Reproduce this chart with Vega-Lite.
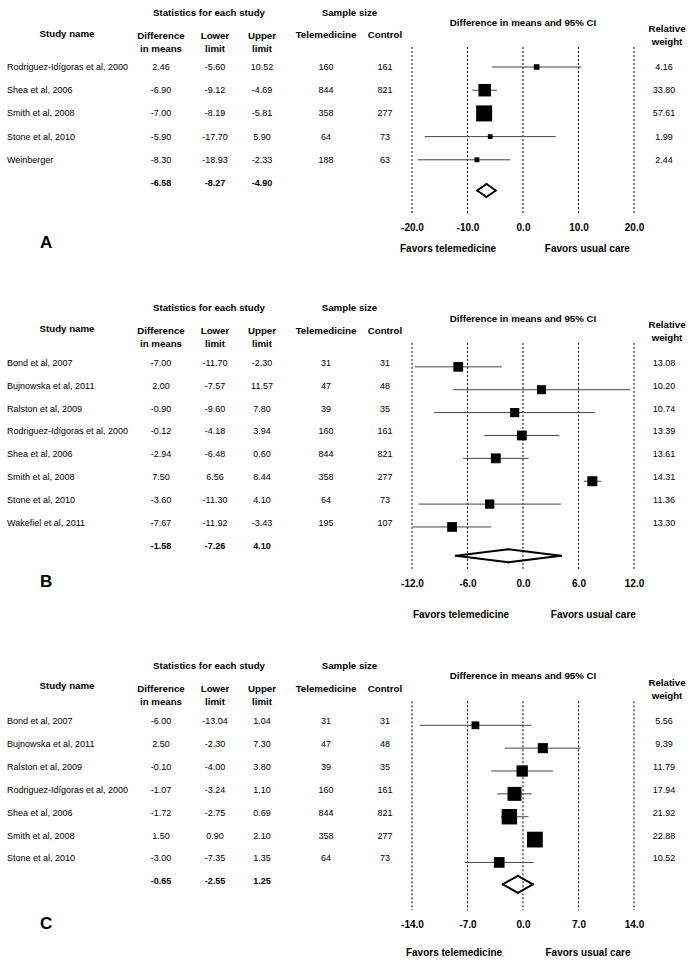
{
"$schema": "https://vega.github.io/schema/vega-lite/v6.json",
"padding": {"left": 7, "top": 7, "right": 0, "bottom": 0},
"columns": 8,
"spacing": {"row": 40, "column": 0},
"bounds": "flush",
"resolve": {"scale": {"size": "independent"}},
"config": {
  "view": {"stroke": null},
  "text": {"font": "Liberation Sans", "fontSize": 9, "color": "#000", "baseline": "middle"},
  "axis": {"labelFont": "Liberation Sans"},
  "locale": {"number": {"decimal": ".", "thousands": ",", "grouping": [3], "currency": ["$", ""], "minus": "-"}}
},
"datasets": {
  "a": [
    {"row": "r1", "study": "Rodriguez-Idígoras  et al, 2000", "diff": 2.46, "lower": -5.60, "upper": 10.52, "tele": 160, "control": 161, "weight": 4.16},
    {"row": "r2", "study": "Shea et al, 2006", "diff": -6.90, "lower": -9.12, "upper": -4.69, "tele": 844, "control": 821, "weight": 33.80},
    {"row": "r3", "study": "Smith et al, 2008", "diff": -7.00, "lower": -8.19, "upper": -5.81, "tele": 358, "control": 277, "weight": 57.61},
    {"row": "r4", "study": "Stone et al, 2010", "diff": -5.90, "lower": -17.70, "upper": 5.90, "tele": 64, "control": 73, "weight": 1.99},
    {"row": "r5", "study": "Weinberger", "diff": -8.30, "lower": -18.93, "upper": -2.33, "tele": 188, "control": 63, "weight": 2.44}
  ],
  "as": [{"row": "s", "diff": -6.58, "lower": -8.27, "upper": -4.90}],
  "b": [
    {"row": "r1", "study": "Bond et al, 2007", "diff": -7.00, "lower": -11.70, "upper": -2.30, "tele": 31, "control": 31, "weight": 13.08},
    {"row": "r2", "study": "Bujnowska  et al, 2011", "diff": 2.00, "lower": -7.57, "upper": 11.57, "tele": 47, "control": 48, "weight": 10.20},
    {"row": "r3", "study": "Ralston  et al, 2009", "diff": -0.90, "lower": -9.60, "upper": 7.80, "tele": 39, "control": 35, "weight": 10.74},
    {"row": "r4", "study": "Rodriguez-Idígoras  et al, 2000", "diff": -0.12, "lower": -4.18, "upper": 3.94, "tele": 160, "control": 161, "weight": 13.39},
    {"row": "r5", "study": "Shea et al, 2006", "diff": -2.94, "lower": -6.48, "upper": 0.60, "tele": 844, "control": 821, "weight": 13.61},
    {"row": "r6", "study": "Smith et al, 2008", "diff": 7.50, "lower": 6.56, "upper": 8.44, "tele": 358, "control": 277, "weight": 14.31},
    {"row": "r7", "study": "Stone  et al, 2010", "diff": -3.60, "lower": -11.30, "upper": 4.10, "tele": 64, "control": 73, "weight": 11.36},
    {"row": "r8", "study": "Wakefiel  et al, 2011", "diff": -7.67, "lower": -11.92, "upper": -3.43, "tele": 195, "control": 107, "weight": 13.30}
  ],
  "bs": [{"row": "s", "diff": -1.58, "lower": -7.26, "upper": 4.10}],
  "c": [
    {"row": "r1", "study": "Bond et al, 2007", "diff": -6.00, "lower": -13.04, "upper": 1.04, "tele": 31, "control": 31, "weight": 5.56},
    {"row": "r2", "study": "Bujnowska  et al, 2011", "diff": 2.50, "lower": -2.30, "upper": 7.30, "tele": 47, "control": 48, "weight": 9.39},
    {"row": "r3", "study": "Ralston  et al, 2009", "diff": -0.10, "lower": -4.00, "upper": 3.80, "tele": 39, "control": 35, "weight": 11.79},
    {"row": "r4", "study": "Rodriguez-Idígoras  et al, 2000", "diff": -1.07, "lower": -3.24, "upper": 1.10, "tele": 160, "control": 161, "weight": 17.94},
    {"row": "r5", "study": "Shea et al, 2006", "diff": -1.72, "lower": -2.75, "upper": 0.69, "tele": 844, "control": 821, "weight": 21.92},
    {"row": "r6", "study": "Smith et al, 2008", "diff": 1.50, "lower": 0.90, "upper": 2.10, "tele": 358, "control": 277, "weight": 22.88},
    {"row": "r7", "study": "Stone  et al, 2010", "diff": -3.00, "lower": -7.35, "upper": 1.35, "tele": 64, "control": 73, "weight": 10.52}
  ],
  "cs": [{"row": "s", "diff": -0.65, "lower": -2.55, "upper": 1.25}],
  "ta": [{"t": -20}, {"t": -10}, {"t": 0}, {"t": 10}, {"t": 20}],
  "tb": [{"t": -12}, {"t": -6}, {"t": 0}, {"t": 6}, {"t": 12}],
  "tc": [{"t": -14}, {"t": -7}, {"t": 0}, {"t": 7}, {"t": 14}]
},
"concat": [
  {"width": 115, "height": 255.2, "layer": [
    {"data": {"name": "a"}, "mark": {"type": "text", "align": "left"}, "encoding": {"x": {"datum": 0, "type": "quantitative", "scale": {"domain": [0, 1]}, "axis": null}, "y": {"field": "row", "type": "ordinal", "scale": {"type": "point", "padding": 0.5, "domain": ["h1","h2","r1","r2","r3","r4","r5","s","e","tick","fav"]}, "axis": null}, "text": {"field": "study", "type": "nominal"}}},
    {"data": {"values": [{}]}, "mark": {"type": "text", "fontWeight": "bold", "fontSize": 9.7, "dx": 2.5, "dy": -9.8}, "encoding": {"y": {"datum": "h2", "type": "ordinal", "scale": {"type": "point", "padding": 0.5, "domain": ["h1","h2","r1","r2","r3","r4","r5","s","e","tick","fav"]}, "axis": null}, "text": {"value": "Study name"}}},
    {"data": {"values": [{}]}, "mark": {"type": "text", "align": "left", "fontWeight": "bold", "fontSize": 17, "dx": 33, "dy": 13.6}, "encoding": {"x": {"datum": 0, "type": "quantitative", "scale": {"domain": [0, 1]}, "axis": null}, "y": {"datum": "tick", "type": "ordinal", "scale": {"type": "point", "padding": 0.5, "domain": ["h1","h2","r1","r2","r3","r4","r5","s","e","tick","fav"]}, "axis": null}, "text": {"value": "A"}}}
  ]},
  {"width": 78, "height": 255.2, "layer": [
    {"data": {"name": "a"}, "mark": "text", "encoding": {"y": {"field": "row", "type": "ordinal", "scale": {"type": "point", "padding": 0.5, "domain": ["h1","h2","r1","r2","r3","r4","r5","s","e","tick","fav"]}, "axis": null}, "text": {"field": "diff", "type": "quantitative", "format": ".2f"}}},
    {"data": {"name": "as"}, "mark": {"type": "text", "fontWeight": "bold"}, "encoding": {"y": {"field": "row", "type": "ordinal", "scale": {"type": "point", "padding": 0.5, "domain": ["h1","h2","r1","r2","r3","r4","r5","s","e","tick","fav"]}, "axis": null}, "text": {"field": "diff", "type": "quantitative", "format": ".2f"}}},
    {"data": {"values": [{}]}, "mark": {"type": "text", "fontWeight": "bold", "fontSize": 9.7, "lineHeight": 12.5, "dy": -7.8}, "encoding": {"y": {"datum": "h2", "type": "ordinal", "scale": {"type": "point", "padding": 0.5, "domain": ["h1","h2","r1","r2","r3","r4","r5","s","e","tick","fav"]}, "axis": null}, "text": {"value": ["Difference", "in means"]}}}
  ]},
  {"width": 30, "height": 255.2, "layer": [
    {"data": {"name": "a"}, "mark": "text", "encoding": {"y": {"field": "row", "type": "ordinal", "scale": {"type": "point", "padding": 0.5, "domain": ["h1","h2","r1","r2","r3","r4","r5","s","e","tick","fav"]}, "axis": null}, "text": {"field": "lower", "type": "quantitative", "format": ".2f"}}},
    {"data": {"name": "as"}, "mark": {"type": "text", "fontWeight": "bold"}, "encoding": {"y": {"field": "row", "type": "ordinal", "scale": {"type": "point", "padding": 0.5, "domain": ["h1","h2","r1","r2","r3","r4","r5","s","e","tick","fav"]}, "axis": null}, "text": {"field": "lower", "type": "quantitative", "format": ".2f"}}},
    {"data": {"values": [{}]}, "mark": {"type": "text", "fontWeight": "bold", "fontSize": 9.7, "lineHeight": 12.5, "dy": -7.8}, "encoding": {"y": {"datum": "h2", "type": "ordinal", "scale": {"type": "point", "padding": 0.5, "domain": ["h1","h2","r1","r2","r3","r4","r5","s","e","tick","fav"]}, "axis": null}, "text": {"value": ["Lower", "limit"]}}},
    {"data": {"values": [{}]}, "mark": {"type": "text", "fontWeight": "bold", "fontSize": 9.7, "dx": -6, "dy": -7.6}, "encoding": {"y": {"datum": "h1", "type": "ordinal", "scale": {"type": "point", "padding": 0.5, "domain": ["h1","h2","r1","r2","r3","r4","r5","s","e","tick","fav"]}, "axis": null}, "text": {"value": "Statistics for each study"}}}
  ]},
  {"width": 64, "height": 255.2, "layer": [
    {"data": {"name": "a"}, "mark": "text", "encoding": {"y": {"field": "row", "type": "ordinal", "scale": {"type": "point", "padding": 0.5, "domain": ["h1","h2","r1","r2","r3","r4","r5","s","e","tick","fav"]}, "axis": null}, "text": {"field": "upper", "type": "quantitative", "format": ".2f"}}},
    {"data": {"name": "as"}, "mark": {"type": "text", "fontWeight": "bold"}, "encoding": {"y": {"field": "row", "type": "ordinal", "scale": {"type": "point", "padding": 0.5, "domain": ["h1","h2","r1","r2","r3","r4","r5","s","e","tick","fav"]}, "axis": null}, "text": {"field": "upper", "type": "quantitative", "format": ".2f"}}},
    {"data": {"values": [{}]}, "mark": {"type": "text", "fontWeight": "bold", "fontSize": 9.7, "lineHeight": 12.5, "dy": -7.8}, "encoding": {"y": {"datum": "h2", "type": "ordinal", "scale": {"type": "point", "padding": 0.5, "domain": ["h1","h2","r1","r2","r3","r4","r5","s","e","tick","fav"]}, "axis": null}, "text": {"value": ["Upper", "limit"]}}}
  ]},
  {"width": 64, "height": 255.2, "layer": [
    {"data": {"name": "a"}, "mark": "text", "encoding": {"y": {"field": "row", "type": "ordinal", "scale": {"type": "point", "padding": 0.5, "domain": ["h1","h2","r1","r2","r3","r4","r5","s","e","tick","fav"]}, "axis": null}, "text": {"field": "tele", "type": "nominal"}}},
    {"data": {"values": [{}]}, "mark": {"type": "text", "fontWeight": "bold", "fontSize": 9.7, "dy": -8.8}, "encoding": {"y": {"datum": "h2", "type": "ordinal", "scale": {"type": "point", "padding": 0.5, "domain": ["h1","h2","r1","r2","r3","r4","r5","s","e","tick","fav"]}, "axis": null}, "text": {"value": "Telemedicine"}}},
    {"data": {"values": [{}]}, "mark": {"type": "text", "fontWeight": "bold", "fontSize": 9.7, "dx": 23.5, "dy": -7.6}, "encoding": {"y": {"datum": "h1", "type": "ordinal", "scale": {"type": "point", "padding": 0.5, "domain": ["h1","h2","r1","r2","r3","r4","r5","s","e","tick","fav"]}, "axis": null}, "text": {"value": "Sample size"}}}
  ]},
  {"width": 54, "height": 255.2, "layer": [
    {"data": {"name": "a"}, "mark": "text", "encoding": {"y": {"field": "row", "type": "ordinal", "scale": {"type": "point", "padding": 0.5, "domain": ["h1","h2","r1","r2","r3","r4","r5","s","e","tick","fav"]}, "axis": null}, "text": {"field": "control", "type": "nominal"}}},
    {"data": {"values": [{}]}, "mark": {"type": "text", "fontWeight": "bold", "fontSize": 9.7, "dy": -8.8}, "encoding": {"y": {"datum": "h2", "type": "ordinal", "scale": {"type": "point", "padding": 0.5, "domain": ["h1","h2","r1","r2","r3","r4","r5","s","e","tick","fav"]}, "axis": null}, "text": {"value": "Control"}}}
  ]},
  {"width": 222, "height": 255.2, "layer": [
    {"data": {"name": "ta"}, "mark": {"type": "rule", "color": "#000", "strokeWidth": 1, "strokeDash": [2, 2], "yOffset": 3.2, "y2Offset": 7.8}, "encoding": {"x": {"field": "t", "type": "quantitative", "title": null, "scale": {"domain": [-20, 20], "nice": false, "zero": false}, "axis": {"orient": "bottom", "values": [-20, -10, 0, 10, 20], "format": ".1f", "grid": false, "domain": false, "ticks": false, "tickSize": 0, "labelPadding": 0, "labelBaseline": "middle", "labelFlush": false, "labelOverlap": false, "offset": -37, "labelFontWeight": "bold", "labelFontSize": 10, "labelColor": "#000", "title": null}}, "y": {"datum": "h2", "type": "ordinal", "scale": {"type": "point", "padding": 0.5, "domain": ["h1","h2","r1","r2","r3","r4","r5","s","e","tick","fav"]}, "axis": null}, "y2": {"datum": "e"}}},
    {"data": {"name": "a"}, "mark": {"type": "rule", "color": "#444", "strokeWidth": 1}, "encoding": {"x": {"field": "lower", "type": "quantitative", "title": null, "scale": {"domain": [-20, 20], "nice": false, "zero": false}}, "x2": {"field": "upper"}, "y": {"field": "row", "type": "ordinal", "scale": {"type": "point", "padding": 0.5, "domain": ["h1","h2","r1","r2","r3","r4","r5","s","e","tick","fav"]}, "axis": null}}},
    {"data": {"name": "a"}, "mark": {"type": "square", "filled": true, "color": "#000", "opacity": 1}, "encoding": {"x": {"field": "diff", "type": "quantitative", "title": null, "scale": {"domain": [-20, 20], "nice": false, "zero": false}}, "y": {"field": "row", "type": "ordinal", "scale": {"type": "point", "padding": 0.5, "domain": ["h1","h2","r1","r2","r3","r4","r5","s","e","tick","fav"]}, "axis": null}, "size": {"field": "weight", "type": "quantitative", "scale": {"domain": [0, 57.61], "range": [14, 256]}, "legend": null}}},
    {"data": {"name": "as"}, "mark": {"type": "rule", "color": "#000", "strokeWidth": 2, "strokeCap": "round", "yOffset": 7.5, "y2Offset": 1}, "encoding": {"x": {"field": "lower", "type": "quantitative", "title": null, "scale": {"domain": [-20, 20], "nice": false, "zero": false}}, "x2": {"field": "diff"}, "y": {"field": "row", "type": "ordinal", "scale": {"type": "point", "padding": 0.5, "domain": ["h1","h2","r1","r2","r3","r4","r5","s","e","tick","fav"]}, "axis": null}, "y2": {"field": "row"}}},
    {"data": {"name": "as"}, "mark": {"type": "rule", "color": "#000", "strokeWidth": 2, "strokeCap": "round", "yOffset": 1, "y2Offset": 7.5}, "encoding": {"x": {"field": "diff", "type": "quantitative", "title": null, "scale": {"domain": [-20, 20], "nice": false, "zero": false}}, "x2": {"field": "upper"}, "y": {"field": "row", "type": "ordinal", "scale": {"type": "point", "padding": 0.5, "domain": ["h1","h2","r1","r2","r3","r4","r5","s","e","tick","fav"]}, "axis": null}, "y2": {"field": "row"}}},
    {"data": {"name": "as"}, "mark": {"type": "rule", "color": "#000", "strokeWidth": 2, "strokeCap": "round", "yOffset": 7.5, "y2Offset": 14}, "encoding": {"x": {"field": "lower", "type": "quantitative", "title": null, "scale": {"domain": [-20, 20], "nice": false, "zero": false}}, "x2": {"field": "diff"}, "y": {"field": "row", "type": "ordinal", "scale": {"type": "point", "padding": 0.5, "domain": ["h1","h2","r1","r2","r3","r4","r5","s","e","tick","fav"]}, "axis": null}, "y2": {"field": "row"}}},
    {"data": {"name": "as"}, "mark": {"type": "rule", "color": "#000", "strokeWidth": 2, "strokeCap": "round", "yOffset": 14, "y2Offset": 7.5}, "encoding": {"x": {"field": "diff", "type": "quantitative", "title": null, "scale": {"domain": [-20, 20], "nice": false, "zero": false}}, "x2": {"field": "upper"}, "y": {"field": "row", "type": "ordinal", "scale": {"type": "point", "padding": 0.5, "domain": ["h1","h2","r1","r2","r3","r4","r5","s","e","tick","fav"]}, "axis": null}, "y2": {"field": "row"}}},
    {"data": {"values": [{}]}, "mark": {"type": "text", "fontWeight": "bold", "fontSize": 9.7, "dy": 2.4}, "encoding": {"x": {"datum": 0, "type": "quantitative", "title": null, "scale": {"domain": [-20, 20], "nice": false, "zero": false}}, "y": {"datum": "h1", "type": "ordinal", "scale": {"type": "point", "padding": 0.5, "domain": ["h1","h2","r1","r2","r3","r4","r5","s","e","tick","fav"]}, "axis": null}, "text": {"value": "Difference in means and 95% CI"}}},
    {"data": {"values": [{}]}, "mark": {"type": "text", "fontWeight": "bold", "fontSize": 10, "dy": -3.6}, "encoding": {"x": {"datum": -13.5, "type": "quantitative", "title": null, "scale": {"domain": [-20, 20], "nice": false, "zero": false}}, "y": {"datum": "fav", "type": "ordinal", "scale": {"type": "point", "padding": 0.5, "domain": ["h1","h2","r1","r2","r3","r4","r5","s","e","tick","fav"]}, "axis": null}, "text": {"value": "Favors telemedicine"}}},
    {"data": {"values": [{}]}, "mark": {"type": "text", "fontWeight": "bold", "fontSize": 10, "dy": -3.6}, "encoding": {"x": {"datum": 11.6, "type": "quantitative", "title": null, "scale": {"domain": [-20, 20], "nice": false, "zero": false}}, "y": {"datum": "fav", "type": "ordinal", "scale": {"type": "point", "padding": 0.5, "domain": ["h1","h2","r1","r2","r3","r4","r5","s","e","tick","fav"]}, "axis": null}, "text": {"value": "Favors usual care"}}}
  ]},
  {"width": 60, "height": 255.2, "layer": [
    {"data": {"name": "a"}, "mark": "text", "encoding": {"y": {"field": "row", "type": "ordinal", "scale": {"type": "point", "padding": 0.5, "domain": ["h1","h2","r1","r2","r3","r4","r5","s","e","tick","fav"]}, "axis": null}, "text": {"field": "weight", "type": "quantitative", "format": ".2f"}}},
    {"data": {"values": [{}]}, "mark": {"type": "text", "fontWeight": "bold", "fontSize": 9.7, "lineHeight": 13, "dx": 3, "dy": -14.8}, "encoding": {"y": {"datum": "h2", "type": "ordinal", "scale": {"type": "point", "padding": 0.5, "domain": ["h1","h2","r1","r2","r3","r4","r5","s","e","tick","fav"]}, "axis": null}, "text": {"value": ["Relative", "weight"]}}}
  ]},

  {"width": 115, "height": 321.55, "layer": [
    {"data": {"name": "b"}, "mark": {"type": "text", "align": "left"}, "encoding": {"x": {"datum": 0, "type": "quantitative", "scale": {"domain": [0, 1]}, "axis": null}, "y": {"field": "row", "type": "ordinal", "scale": {"type": "point", "padding": 0.5285, "domain": ["h1","h2","r1","r2","r3","r4","r5","r6","r7","r8","s","e","tick","fav"]}, "axis": null}, "text": {"field": "study", "type": "nominal"}}},
    {"data": {"values": [{}]}, "mark": {"type": "text", "fontWeight": "bold", "fontSize": 9.7, "dx": 2.5, "dy": -11.1}, "encoding": {"y": {"datum": "h2", "type": "ordinal", "scale": {"type": "point", "padding": 0.5285, "domain": ["h1","h2","r1","r2","r3","r4","r5","r6","r7","r8","s","e","tick","fav"]}, "axis": null}, "text": {"value": "Study name"}}},
    {"data": {"values": [{}]}, "mark": {"type": "text", "align": "left", "fontWeight": "bold", "fontSize": 17, "dx": 33, "dy": -9.75}, "encoding": {"x": {"datum": 0, "type": "quantitative", "scale": {"domain": [0, 1]}, "axis": null}, "y": {"datum": "tick", "type": "ordinal", "scale": {"type": "point", "padding": 0.5285, "domain": ["h1","h2","r1","r2","r3","r4","r5","r6","r7","r8","s","e","tick","fav"]}, "axis": null}, "text": {"value": "B"}}}
  ]},
  {"width": 78, "height": 321.55, "layer": [
    {"data": {"name": "b"}, "mark": "text", "encoding": {"y": {"field": "row", "type": "ordinal", "scale": {"type": "point", "padding": 0.5285, "domain": ["h1","h2","r1","r2","r3","r4","r5","r6","r7","r8","s","e","tick","fav"]}, "axis": null}, "text": {"field": "diff", "type": "quantitative", "format": ".2f"}}},
    {"data": {"name": "bs"}, "mark": {"type": "text", "fontWeight": "bold"}, "encoding": {"y": {"field": "row", "type": "ordinal", "scale": {"type": "point", "padding": 0.5285, "domain": ["h1","h2","r1","r2","r3","r4","r5","r6","r7","r8","s","e","tick","fav"]}, "axis": null}, "text": {"field": "diff", "type": "quantitative", "format": ".2f"}}},
    {"data": {"values": [{}]}, "mark": {"type": "text", "fontWeight": "bold", "fontSize": 9.7, "lineHeight": 13.5, "dy": -9.1}, "encoding": {"y": {"datum": "h2", "type": "ordinal", "scale": {"type": "point", "padding": 0.5285, "domain": ["h1","h2","r1","r2","r3","r4","r5","r6","r7","r8","s","e","tick","fav"]}, "axis": null}, "text": {"value": ["Difference", "in means"]}}}
  ]},
  {"width": 30, "height": 321.55, "layer": [
    {"data": {"name": "b"}, "mark": "text", "encoding": {"y": {"field": "row", "type": "ordinal", "scale": {"type": "point", "padding": 0.5285, "domain": ["h1","h2","r1","r2","r3","r4","r5","r6","r7","r8","s","e","tick","fav"]}, "axis": null}, "text": {"field": "lower", "type": "quantitative", "format": ".2f"}}},
    {"data": {"name": "bs"}, "mark": {"type": "text", "fontWeight": "bold"}, "encoding": {"y": {"field": "row", "type": "ordinal", "scale": {"type": "point", "padding": 0.5285, "domain": ["h1","h2","r1","r2","r3","r4","r5","r6","r7","r8","s","e","tick","fav"]}, "axis": null}, "text": {"field": "lower", "type": "quantitative", "format": ".2f"}}},
    {"data": {"values": [{}]}, "mark": {"type": "text", "fontWeight": "bold", "fontSize": 9.7, "lineHeight": 13.5, "dy": -9.1}, "encoding": {"y": {"datum": "h2", "type": "ordinal", "scale": {"type": "point", "padding": 0.5285, "domain": ["h1","h2","r1","r2","r3","r4","r5","r6","r7","r8","s","e","tick","fav"]}, "axis": null}, "text": {"value": ["Lower", "limit"]}}},
    {"data": {"values": [{}]}, "mark": {"type": "text", "fontWeight": "bold", "fontSize": 9.7, "dx": -6, "dy": -9.25}, "encoding": {"y": {"datum": "h1", "type": "ordinal", "scale": {"type": "point", "padding": 0.5285, "domain": ["h1","h2","r1","r2","r3","r4","r5","r6","r7","r8","s","e","tick","fav"]}, "axis": null}, "text": {"value": "Statistics for each study"}}}
  ]},
  {"width": 64, "height": 321.55, "layer": [
    {"data": {"name": "b"}, "mark": "text", "encoding": {"y": {"field": "row", "type": "ordinal", "scale": {"type": "point", "padding": 0.5285, "domain": ["h1","h2","r1","r2","r3","r4","r5","r6","r7","r8","s","e","tick","fav"]}, "axis": null}, "text": {"field": "upper", "type": "quantitative", "format": ".2f"}}},
    {"data": {"name": "bs"}, "mark": {"type": "text", "fontWeight": "bold"}, "encoding": {"y": {"field": "row", "type": "ordinal", "scale": {"type": "point", "padding": 0.5285, "domain": ["h1","h2","r1","r2","r3","r4","r5","r6","r7","r8","s","e","tick","fav"]}, "axis": null}, "text": {"field": "upper", "type": "quantitative", "format": ".2f"}}},
    {"data": {"values": [{}]}, "mark": {"type": "text", "fontWeight": "bold", "fontSize": 9.7, "lineHeight": 13.5, "dy": -9.1}, "encoding": {"y": {"datum": "h2", "type": "ordinal", "scale": {"type": "point", "padding": 0.5285, "domain": ["h1","h2","r1","r2","r3","r4","r5","r6","r7","r8","s","e","tick","fav"]}, "axis": null}, "text": {"value": ["Upper", "limit"]}}}
  ]},
  {"width": 64, "height": 321.55, "layer": [
    {"data": {"name": "b"}, "mark": "text", "encoding": {"y": {"field": "row", "type": "ordinal", "scale": {"type": "point", "padding": 0.5285, "domain": ["h1","h2","r1","r2","r3","r4","r5","r6","r7","r8","s","e","tick","fav"]}, "axis": null}, "text": {"field": "tele", "type": "nominal"}}},
    {"data": {"values": [{}]}, "mark": {"type": "text", "fontWeight": "bold", "fontSize": 9.7, "dy": -9.1}, "encoding": {"y": {"datum": "h2", "type": "ordinal", "scale": {"type": "point", "padding": 0.5285, "domain": ["h1","h2","r1","r2","r3","r4","r5","r6","r7","r8","s","e","tick","fav"]}, "axis": null}, "text": {"value": "Telemedicine"}}},
    {"data": {"values": [{}]}, "mark": {"type": "text", "fontWeight": "bold", "fontSize": 9.7, "dx": 23.5, "dy": -9.25}, "encoding": {"y": {"datum": "h1", "type": "ordinal", "scale": {"type": "point", "padding": 0.5285, "domain": ["h1","h2","r1","r2","r3","r4","r5","r6","r7","r8","s","e","tick","fav"]}, "axis": null}, "text": {"value": "Sample size"}}}
  ]},
  {"width": 54, "height": 321.55, "layer": [
    {"data": {"name": "b"}, "mark": "text", "encoding": {"y": {"field": "row", "type": "ordinal", "scale": {"type": "point", "padding": 0.5285, "domain": ["h1","h2","r1","r2","r3","r4","r5","r6","r7","r8","s","e","tick","fav"]}, "axis": null}, "text": {"field": "control", "type": "nominal"}}},
    {"data": {"values": [{}]}, "mark": {"type": "text", "fontWeight": "bold", "fontSize": 9.7, "dy": -9.1}, "encoding": {"y": {"datum": "h2", "type": "ordinal", "scale": {"type": "point", "padding": 0.5285, "domain": ["h1","h2","r1","r2","r3","r4","r5","r6","r7","r8","s","e","tick","fav"]}, "axis": null}, "text": {"value": "Control"}}}
  ]},
  {"width": 222, "height": 321.55, "layer": [
    {"data": {"name": "tb"}, "mark": {"type": "rule", "color": "#000", "strokeWidth": 1, "strokeDash": [2, 2], "yOffset": 2.9, "y2Offset": 1.1}, "encoding": {"x": {"field": "t", "type": "quantitative", "title": null, "scale": {"domain": [-12, 12], "nice": false, "zero": false}, "axis": {"orient": "bottom", "values": [-12, -6, 0, 6, 12], "format": ".1f", "grid": false, "domain": false, "ticks": false, "tickSize": 0, "labelPadding": 0, "labelBaseline": "middle", "labelFlush": false, "labelOverlap": false, "offset": -43, "labelFontWeight": "bold", "labelFontSize": 10, "labelColor": "#000", "title": null}}, "y": {"datum": "h2", "type": "ordinal", "scale": {"type": "point", "padding": 0.5285, "domain": ["h1","h2","r1","r2","r3","r4","r5","r6","r7","r8","s","e","tick","fav"]}, "axis": null}, "y2": {"datum": "e"}}},
    {"data": {"name": "b"}, "mark": {"type": "rule", "color": "#444", "strokeWidth": 1, "yOffset": 4}, "encoding": {"x": {"field": "lower", "type": "quantitative", "title": null, "scale": {"domain": [-12, 12], "nice": false, "zero": false}}, "x2": {"field": "upper"}, "y": {"field": "row", "type": "ordinal", "scale": {"type": "point", "padding": 0.5285, "domain": ["h1","h2","r1","r2","r3","r4","r5","r6","r7","r8","s","e","tick","fav"]}, "axis": null}}},
    {"data": {"name": "b"}, "mark": {"type": "square", "filled": true, "color": "#000", "opacity": 1, "yOffset": 4}, "encoding": {"x": {"field": "diff", "type": "quantitative", "title": null, "scale": {"domain": [-12, 12], "nice": false, "zero": false}}, "y": {"field": "row", "type": "ordinal", "scale": {"type": "point", "padding": 0.5285, "domain": ["h1","h2","r1","r2","r3","r4","r5","r6","r7","r8","s","e","tick","fav"]}, "axis": null}, "size": {"field": "weight", "type": "quantitative", "scale": {"domain": [0, 14.31], "range": [34, 100]}, "legend": null}}},
    {"data": {"name": "bs"}, "mark": {"type": "rule", "color": "#000", "strokeWidth": 2, "strokeCap": "round", "yOffset": 10, "y2Offset": 3.5}, "encoding": {"x": {"field": "lower", "type": "quantitative", "title": null, "scale": {"domain": [-12, 12], "nice": false, "zero": false}}, "x2": {"field": "diff"}, "y": {"field": "row", "type": "ordinal", "scale": {"type": "point", "padding": 0.5285, "domain": ["h1","h2","r1","r2","r3","r4","r5","r6","r7","r8","s","e","tick","fav"]}, "axis": null}, "y2": {"field": "row"}}},
    {"data": {"name": "bs"}, "mark": {"type": "rule", "color": "#000", "strokeWidth": 2, "strokeCap": "round", "yOffset": 3.5, "y2Offset": 10}, "encoding": {"x": {"field": "diff", "type": "quantitative", "title": null, "scale": {"domain": [-12, 12], "nice": false, "zero": false}}, "x2": {"field": "upper"}, "y": {"field": "row", "type": "ordinal", "scale": {"type": "point", "padding": 0.5285, "domain": ["h1","h2","r1","r2","r3","r4","r5","r6","r7","r8","s","e","tick","fav"]}, "axis": null}, "y2": {"field": "row"}}},
    {"data": {"name": "bs"}, "mark": {"type": "rule", "color": "#000", "strokeWidth": 2, "strokeCap": "round", "yOffset": 10, "y2Offset": 16.5}, "encoding": {"x": {"field": "lower", "type": "quantitative", "title": null, "scale": {"domain": [-12, 12], "nice": false, "zero": false}}, "x2": {"field": "diff"}, "y": {"field": "row", "type": "ordinal", "scale": {"type": "point", "padding": 0.5285, "domain": ["h1","h2","r1","r2","r3","r4","r5","r6","r7","r8","s","e","tick","fav"]}, "axis": null}, "y2": {"field": "row"}}},
    {"data": {"name": "bs"}, "mark": {"type": "rule", "color": "#000", "strokeWidth": 2, "strokeCap": "round", "yOffset": 16.5, "y2Offset": 10}, "encoding": {"x": {"field": "diff", "type": "quantitative", "title": null, "scale": {"domain": [-12, 12], "nice": false, "zero": false}}, "x2": {"field": "upper"}, "y": {"field": "row", "type": "ordinal", "scale": {"type": "point", "padding": 0.5285, "domain": ["h1","h2","r1","r2","r3","r4","r5","r6","r7","r8","s","e","tick","fav"]}, "axis": null}, "y2": {"field": "row"}}},
    {"data": {"values": [{}]}, "mark": {"type": "text", "fontWeight": "bold", "fontSize": 9.7, "dy": 1.75}, "encoding": {"x": {"datum": 0, "type": "quantitative", "title": null, "scale": {"domain": [-12, 12], "nice": false, "zero": false}}, "y": {"datum": "h1", "type": "ordinal", "scale": {"type": "point", "padding": 0.5285, "domain": ["h1","h2","r1","r2","r3","r4","r5","r6","r7","r8","s","e","tick","fav"]}, "axis": null}, "text": {"value": "Difference in means and 95% CI"}}},
    {"data": {"values": [{}]}, "mark": {"type": "text", "fontWeight": "bold", "fontSize": 10, "dy": 0.4}, "encoding": {"x": {"datum": -6.7, "type": "quantitative", "title": null, "scale": {"domain": [-12, 12], "nice": false, "zero": false}}, "y": {"datum": "fav", "type": "ordinal", "scale": {"type": "point", "padding": 0.5285, "domain": ["h1","h2","r1","r2","r3","r4","r5","r6","r7","r8","s","e","tick","fav"]}, "axis": null}, "text": {"value": "Favors telemedicine"}}},
    {"data": {"values": [{}]}, "mark": {"type": "text", "fontWeight": "bold", "fontSize": 10, "dy": 0.4}, "encoding": {"x": {"datum": 7.6, "type": "quantitative", "title": null, "scale": {"domain": [-12, 12], "nice": false, "zero": false}}, "y": {"datum": "fav", "type": "ordinal", "scale": {"type": "point", "padding": 0.5285, "domain": ["h1","h2","r1","r2","r3","r4","r5","r6","r7","r8","s","e","tick","fav"]}, "axis": null}, "text": {"value": "Favors usual care"}}}
  ]},
  {"width": 60, "height": 321.55, "layer": [
    {"data": {"name": "b"}, "mark": "text", "encoding": {"y": {"field": "row", "type": "ordinal", "scale": {"type": "point", "padding": 0.5285, "domain": ["h1","h2","r1","r2","r3","r4","r5","r6","r7","r8","s","e","tick","fav"]}, "axis": null}, "text": {"field": "weight", "type": "quantitative", "format": ".2f"}}},
    {"data": {"values": [{}]}, "mark": {"type": "text", "fontWeight": "bold", "fontSize": 9.7, "lineHeight": 13, "dx": 3, "dy": -15.1}, "encoding": {"y": {"datum": "h2", "type": "ordinal", "scale": {"type": "point", "padding": 0.5285, "domain": ["h1","h2","r1","r2","r3","r4","r5","r6","r7","r8","s","e","tick","fav"]}, "axis": null}, "text": {"value": ["Relative", "weight"]}}}
  ]},

  {"width": 115, "height": 291.45, "layer": [
    {"data": {"name": "c"}, "mark": {"type": "text", "align": "left"}, "encoding": {"x": {"datum": 0, "type": "quantitative", "scale": {"domain": [0, 1]}, "axis": null}, "y": {"field": "row", "type": "ordinal", "scale": {"type": "point", "padding": 0.3754, "domain": ["h1","h2","r1","r2","r3","r4","r5","r6","r7","s","e","tick","fav"]}, "axis": null}, "text": {"field": "study", "type": "nominal"}}},
    {"data": {"values": [{}]}, "mark": {"type": "text", "fontWeight": "bold", "fontSize": 9.7, "dx": 2.5, "dy": -12.2}, "encoding": {"y": {"datum": "h2", "type": "ordinal", "scale": {"type": "point", "padding": 0.3754, "domain": ["h1","h2","r1","r2","r3","r4","r5","r6","r7","s","e","tick","fav"]}, "axis": null}, "text": {"value": "Study name"}}},
    {"data": {"values": [{}]}, "mark": {"type": "text", "align": "left", "fontWeight": "bold", "fontSize": 17, "dx": 33, "dy": -2.7}, "encoding": {"x": {"datum": 0, "type": "quantitative", "scale": {"domain": [0, 1]}, "axis": null}, "y": {"datum": "tick", "type": "ordinal", "scale": {"type": "point", "padding": 0.3754, "domain": ["h1","h2","r1","r2","r3","r4","r5","r6","r7","s","e","tick","fav"]}, "axis": null}, "text": {"value": "C"}}}
  ]},
  {"width": 78, "height": 291.45, "layer": [
    {"data": {"name": "c"}, "mark": "text", "encoding": {"y": {"field": "row", "type": "ordinal", "scale": {"type": "point", "padding": 0.3754, "domain": ["h1","h2","r1","r2","r3","r4","r5","r6","r7","s","e","tick","fav"]}, "axis": null}, "text": {"field": "diff", "type": "quantitative", "format": ".2f"}}},
    {"data": {"name": "cs"}, "mark": {"type": "text", "fontWeight": "bold"}, "encoding": {"y": {"field": "row", "type": "ordinal", "scale": {"type": "point", "padding": 0.3754, "domain": ["h1","h2","r1","r2","r3","r4","r5","r6","r7","s","e","tick","fav"]}, "axis": null}, "text": {"field": "diff", "type": "quantitative", "format": ".2f"}}},
    {"data": {"values": [{}]}, "mark": {"type": "text", "fontWeight": "bold", "fontSize": 9.7, "lineHeight": 13, "dy": -9.15}, "encoding": {"y": {"datum": "h2", "type": "ordinal", "scale": {"type": "point", "padding": 0.3754, "domain": ["h1","h2","r1","r2","r3","r4","r5","r6","r7","s","e","tick","fav"]}, "axis": null}, "text": {"value": ["Difference", "in means"]}}}
  ]},
  {"width": 30, "height": 291.45, "layer": [
    {"data": {"name": "c"}, "mark": "text", "encoding": {"y": {"field": "row", "type": "ordinal", "scale": {"type": "point", "padding": 0.3754, "domain": ["h1","h2","r1","r2","r3","r4","r5","r6","r7","s","e","tick","fav"]}, "axis": null}, "text": {"field": "lower", "type": "quantitative", "format": ".2f"}}},
    {"data": {"name": "cs"}, "mark": {"type": "text", "fontWeight": "bold"}, "encoding": {"y": {"field": "row", "type": "ordinal", "scale": {"type": "point", "padding": 0.3754, "domain": ["h1","h2","r1","r2","r3","r4","r5","r6","r7","s","e","tick","fav"]}, "axis": null}, "text": {"field": "lower", "type": "quantitative", "format": ".2f"}}},
    {"data": {"values": [{}]}, "mark": {"type": "text", "fontWeight": "bold", "fontSize": 9.7, "lineHeight": 13, "dy": -9.15}, "encoding": {"y": {"datum": "h2", "type": "ordinal", "scale": {"type": "point", "padding": 0.3754, "domain": ["h1","h2","r1","r2","r3","r4","r5","r6","r7","s","e","tick","fav"]}, "axis": null}, "text": {"value": ["Lower", "limit"]}}},
    {"data": {"values": [{}]}, "mark": {"type": "text", "fontWeight": "bold", "fontSize": 9.7, "dx": -6, "dy": -9.3}, "encoding": {"y": {"datum": "h1", "type": "ordinal", "scale": {"type": "point", "padding": 0.3754, "domain": ["h1","h2","r1","r2","r3","r4","r5","r6","r7","s","e","tick","fav"]}, "axis": null}, "text": {"value": "Statistics for each study"}}}
  ]},
  {"width": 64, "height": 291.45, "layer": [
    {"data": {"name": "c"}, "mark": "text", "encoding": {"y": {"field": "row", "type": "ordinal", "scale": {"type": "point", "padding": 0.3754, "domain": ["h1","h2","r1","r2","r3","r4","r5","r6","r7","s","e","tick","fav"]}, "axis": null}, "text": {"field": "upper", "type": "quantitative", "format": ".2f"}}},
    {"data": {"name": "cs"}, "mark": {"type": "text", "fontWeight": "bold"}, "encoding": {"y": {"field": "row", "type": "ordinal", "scale": {"type": "point", "padding": 0.3754, "domain": ["h1","h2","r1","r2","r3","r4","r5","r6","r7","s","e","tick","fav"]}, "axis": null}, "text": {"field": "upper", "type": "quantitative", "format": ".2f"}}},
    {"data": {"values": [{}]}, "mark": {"type": "text", "fontWeight": "bold", "fontSize": 9.7, "lineHeight": 13, "dy": -9.15}, "encoding": {"y": {"datum": "h2", "type": "ordinal", "scale": {"type": "point", "padding": 0.3754, "domain": ["h1","h2","r1","r2","r3","r4","r5","r6","r7","s","e","tick","fav"]}, "axis": null}, "text": {"value": ["Upper", "limit"]}}}
  ]},
  {"width": 64, "height": 291.45, "layer": [
    {"data": {"name": "c"}, "mark": "text", "encoding": {"y": {"field": "row", "type": "ordinal", "scale": {"type": "point", "padding": 0.3754, "domain": ["h1","h2","r1","r2","r3","r4","r5","r6","r7","s","e","tick","fav"]}, "axis": null}, "text": {"field": "tele", "type": "nominal"}}},
    {"data": {"values": [{}]}, "mark": {"type": "text", "fontWeight": "bold", "fontSize": 9.7, "dy": -9.15}, "encoding": {"y": {"datum": "h2", "type": "ordinal", "scale": {"type": "point", "padding": 0.3754, "domain": ["h1","h2","r1","r2","r3","r4","r5","r6","r7","s","e","tick","fav"]}, "axis": null}, "text": {"value": "Telemedicine"}}},
    {"data": {"values": [{}]}, "mark": {"type": "text", "fontWeight": "bold", "fontSize": 9.7, "dx": 23.5, "dy": -9.3}, "encoding": {"y": {"datum": "h1", "type": "ordinal", "scale": {"type": "point", "padding": 0.3754, "domain": ["h1","h2","r1","r2","r3","r4","r5","r6","r7","s","e","tick","fav"]}, "axis": null}, "text": {"value": "Sample size"}}}
  ]},
  {"width": 54, "height": 291.45, "layer": [
    {"data": {"name": "c"}, "mark": "text", "encoding": {"y": {"field": "row", "type": "ordinal", "scale": {"type": "point", "padding": 0.3754, "domain": ["h1","h2","r1","r2","r3","r4","r5","r6","r7","s","e","tick","fav"]}, "axis": null}, "text": {"field": "control", "type": "nominal"}}},
    {"data": {"values": [{}]}, "mark": {"type": "text", "fontWeight": "bold", "fontSize": 9.7, "dy": -9.15}, "encoding": {"y": {"datum": "h2", "type": "ordinal", "scale": {"type": "point", "padding": 0.3754, "domain": ["h1","h2","r1","r2","r3","r4","r5","r6","r7","s","e","tick","fav"]}, "axis": null}, "text": {"value": "Control"}}}
  ]},
  {"width": 222, "height": 291.45, "layer": [
    {"data": {"name": "tc"}, "mark": {"type": "rule", "color": "#000", "strokeWidth": 1, "strokeDash": [2, 2], "yOffset": 2.85, "y2Offset": 6.1}, "encoding": {"x": {"field": "t", "type": "quantitative", "title": null, "scale": {"domain": [-14, 14], "nice": false, "zero": false}, "axis": {"orient": "bottom", "values": [-14, -7, 0, 7, 14], "format": ".1f", "grid": false, "domain": false, "ticks": false, "tickSize": 0, "labelPadding": 0, "labelBaseline": "middle", "labelFlush": false, "labelOverlap": false, "offset": -33.5, "labelFontWeight": "bold", "labelFontSize": 10, "labelColor": "#000", "title": null}}, "y": {"datum": "h2", "type": "ordinal", "scale": {"type": "point", "padding": 0.3754, "domain": ["h1","h2","r1","r2","r3","r4","r5","r6","r7","s","e","tick","fav"]}, "axis": null}, "y2": {"datum": "e"}}},
    {"data": {"name": "c"}, "mark": {"type": "rule", "color": "#444", "strokeWidth": 1, "yOffset": 4}, "encoding": {"x": {"field": "lower", "type": "quantitative", "title": null, "scale": {"domain": [-14, 14], "nice": false, "zero": false}}, "x2": {"field": "upper"}, "y": {"field": "row", "type": "ordinal", "scale": {"type": "point", "padding": 0.3754, "domain": ["h1","h2","r1","r2","r3","r4","r5","r6","r7","s","e","tick","fav"]}, "axis": null}}},
    {"data": {"name": "c"}, "mark": {"type": "square", "filled": true, "color": "#000", "opacity": 1, "yOffset": 4}, "encoding": {"x": {"field": "diff", "type": "quantitative", "title": null, "scale": {"domain": [-14, 14], "nice": false, "zero": false}}, "y": {"field": "row", "type": "ordinal", "scale": {"type": "point", "padding": 0.3754, "domain": ["h1","h2","r1","r2","r3","r4","r5","r6","r7","s","e","tick","fav"]}, "axis": null}, "size": {"field": "weight", "type": "quantitative", "scale": {"domain": [0, 23], "range": [0, 250]}, "legend": null}}},
    {"data": {"name": "cs"}, "mark": {"type": "rule", "color": "#000", "strokeWidth": 2, "strokeCap": "round", "yOffset": 3, "y2Offset": -5.5}, "encoding": {"x": {"field": "lower", "type": "quantitative", "title": null, "scale": {"domain": [-14, 14], "nice": false, "zero": false}}, "x2": {"field": "diff"}, "y": {"field": "row", "type": "ordinal", "scale": {"type": "point", "padding": 0.3754, "domain": ["h1","h2","r1","r2","r3","r4","r5","r6","r7","s","e","tick","fav"]}, "axis": null}, "y2": {"field": "row"}}},
    {"data": {"name": "cs"}, "mark": {"type": "rule", "color": "#000", "strokeWidth": 2, "strokeCap": "round", "yOffset": -5.5, "y2Offset": 3}, "encoding": {"x": {"field": "diff", "type": "quantitative", "title": null, "scale": {"domain": [-14, 14], "nice": false, "zero": false}}, "x2": {"field": "upper"}, "y": {"field": "row", "type": "ordinal", "scale": {"type": "point", "padding": 0.3754, "domain": ["h1","h2","r1","r2","r3","r4","r5","r6","r7","s","e","tick","fav"]}, "axis": null}, "y2": {"field": "row"}}},
    {"data": {"name": "cs"}, "mark": {"type": "rule", "color": "#000", "strokeWidth": 2, "strokeCap": "round", "yOffset": 3, "y2Offset": 11.5}, "encoding": {"x": {"field": "lower", "type": "quantitative", "title": null, "scale": {"domain": [-14, 14], "nice": false, "zero": false}}, "x2": {"field": "diff"}, "y": {"field": "row", "type": "ordinal", "scale": {"type": "point", "padding": 0.3754, "domain": ["h1","h2","r1","r2","r3","r4","r5","r6","r7","s","e","tick","fav"]}, "axis": null}, "y2": {"field": "row"}}},
    {"data": {"name": "cs"}, "mark": {"type": "rule", "color": "#000", "strokeWidth": 2, "strokeCap": "round", "yOffset": 11.5, "y2Offset": 3}, "encoding": {"x": {"field": "diff", "type": "quantitative", "title": null, "scale": {"domain": [-14, 14], "nice": false, "zero": false}}, "x2": {"field": "upper"}, "y": {"field": "row", "type": "ordinal", "scale": {"type": "point", "padding": 0.3754, "domain": ["h1","h2","r1","r2","r3","r4","r5","r6","r7","s","e","tick","fav"]}, "axis": null}, "y2": {"field": "row"}}},
    {"data": {"values": [{}]}, "mark": {"type": "text", "fontWeight": "bold", "fontSize": 9.7, "dy": 0.7}, "encoding": {"x": {"datum": 0, "type": "quantitative", "title": null, "scale": {"domain": [-14, 14], "nice": false, "zero": false}}, "y": {"datum": "h1", "type": "ordinal", "scale": {"type": "point", "padding": 0.3754, "domain": ["h1","h2","r1","r2","r3","r4","r5","r6","r7","s","e","tick","fav"]}, "axis": null}, "text": {"value": "Difference in means and 95% CI"}}},
    {"data": {"values": [{}]}, "mark": {"type": "text", "fontWeight": "bold", "fontSize": 10, "dy": 3.4}, "encoding": {"x": {"datum": -8.7, "type": "quantitative", "title": null, "scale": {"domain": [-14, 14], "nice": false, "zero": false}}, "y": {"datum": "fav", "type": "ordinal", "scale": {"type": "point", "padding": 0.3754, "domain": ["h1","h2","r1","r2","r3","r4","r5","r6","r7","s","e","tick","fav"]}, "axis": null}, "text": {"value": "Favors telemedicine"}}},
    {"data": {"values": [{}]}, "mark": {"type": "text", "fontWeight": "bold", "fontSize": 10, "dy": 3.4}, "encoding": {"x": {"datum": 8.2, "type": "quantitative", "title": null, "scale": {"domain": [-14, 14], "nice": false, "zero": false}}, "y": {"datum": "fav", "type": "ordinal", "scale": {"type": "point", "padding": 0.3754, "domain": ["h1","h2","r1","r2","r3","r4","r5","r6","r7","s","e","tick","fav"]}, "axis": null}, "text": {"value": "Favors usual care"}}}
  ]},
  {"width": 60, "height": 291.45, "layer": [
    {"data": {"name": "c"}, "mark": "text", "encoding": {"y": {"field": "row", "type": "ordinal", "scale": {"type": "point", "padding": 0.3754, "domain": ["h1","h2","r1","r2","r3","r4","r5","r6","r7","s","e","tick","fav"]}, "axis": null}, "text": {"field": "weight", "type": "quantitative", "format": ".2f"}}},
    {"data": {"values": [{}]}, "mark": {"type": "text", "fontWeight": "bold", "fontSize": 9.7, "lineHeight": 13, "dx": 3, "dy": -15.15}, "encoding": {"y": {"datum": "h2", "type": "ordinal", "scale": {"type": "point", "padding": 0.3754, "domain": ["h1","h2","r1","r2","r3","r4","r5","r6","r7","s","e","tick","fav"]}, "axis": null}, "text": {"value": ["Relative", "weight"]}}}
  ]}
]
}
